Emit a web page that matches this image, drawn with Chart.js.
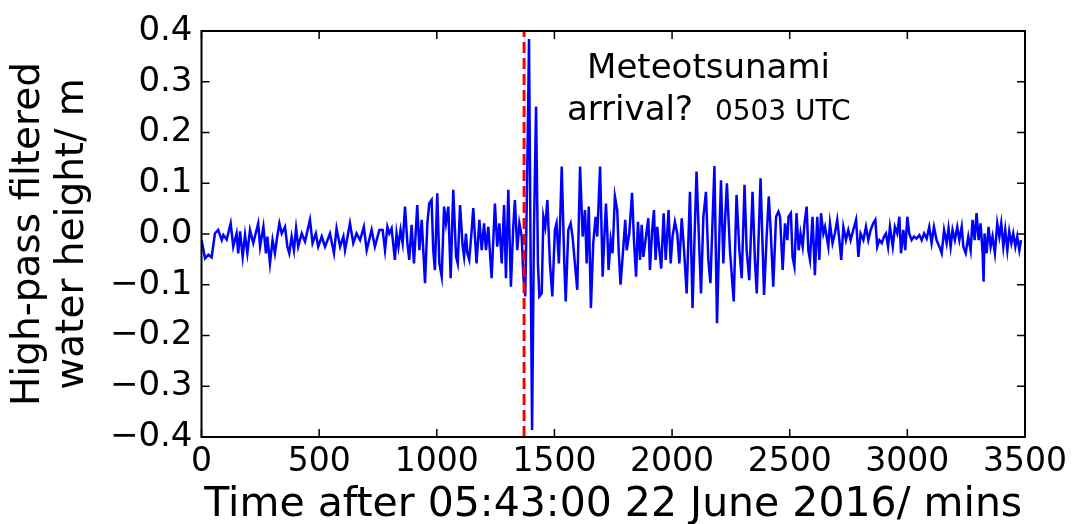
<!DOCTYPE html>
<html>
<head>
<meta charset="utf-8">
<script src="https://cdn.jsdelivr.net/npm/chart.js@4.4.1/dist/chart.umd.min.js"></script>
<style>
html,body{margin:0;padding:0;background:#fff;}
#c{display:block;}
</style>
</head>
<body>
<canvas id="c" width="1079" height="524"></canvas>
<script>
// Time after 05:43:00 22 June 2016 (mins)
const times = [
0,15,29,43,57,71,86,93,107,124,135,149,156,164,175,185,195,206,220,241,249,263,274,280,291,302,312,322,331,341,355,365,373,383,393,402,411,426,440,461,472,486,496,511,525,546,563,574,589,603,610,631,645,659,674,690,702,723,737,756,
770,780,790,798,808,822,829,837,846,855,865,875,883,893,903,917,926,936,950,960,968,978,985,992,1002,1011,1021,1031,1039,1049,1059,1070,1082,1089,1099,1110,1116,1124,1130,1138,1148,1155,1169,1181,1191,1201,1209,1219,1233,1247,1257,1266,1276,1286,1294,1304,1315,1325,1332,1342,1351,1361,1368,1376,1383,1392,1399,1405,1413,1422,1430,1436,1446,1453,1461,1470,1481,1491,1502,1509,1519,1531,1542,1548,1559,1569,1577,1587,1597,1609,1620,1630,1637,1646,1655,1665,1675,1682,
1694,1705,1711,1719,1725,1730,1739,1747,1757,1767,1773,1781,1793,1801,1807,1818,1830,1838,1847,1855,1864,1871,1878,1889,1899,1906,1915,1923,1930,1937,1946,1954,1964,1973,1985,1994,2002,2012,2022,2031,2041,2051,2062,2076,2087,2096,2104,2116,2123,2133,2144,2154,2163,2180,2191,2199,2208,2218,2226,2233,2246,2262,2274,2286,2296,2308,2317,2328,2342,2352,2360,2376,2391,2402,2411,2419,2430,2442,2452,2459,2470,2480,2490,2495,2505,2512,2520,2529,2538,2546,2555,2563,2572,2579,2586,2597,2607,2617,2626,2633,2643,2650,2664,
2671,2682,2692,2702,2711,2719,2728,2739,2749,2759,2770,2782,2792,2801,2813,2824,2834,2844,2855,2864,2872,2881,2891,2901,2909,2918,2926,2938,2947,2957,2966,2973,2983,2991,3000,3008,3018,3028,3039,3051,3061,3071,3082,3093,3103,3113,3124,3136,3146,3156,3167,3175,3184,3192,3202,3212,3221,3231,3238,3248,3259,3269,3277,3286,3294,3303,3311,3320,3324,3328,3337,3345,3354,3362,3372,3382,3391,3399,3408,3416,3425,3433,3442,3450,3459,3467,3476,3483
];
// High-pass filtered water height (m)
const heights = [
-0.012,-0.048,-0.041,-0.046,0.001,0.008,-0.012,-0.002,-0.011,0.021,-0.025,0.001,-0.038,0.005,-0.045,-0.002,-0.038,0.008,-0.018,0.021,-0.025,0.014,-0.038,-0.005,-0.058,-0.012,-0.038,-0.005,0.021,0.001,0.014,-0.025,-0.038,-0.005,-0.032,0.011,-0.025,0.001,-0.015,0.028,-0.018,0.001,-0.025,-0.005,-0.025,0.001,-0.038,0.011,-0.025,-0.005,-0.032,0.021,-0.018,0.001,-0.012,0.014,-0.032,0.008,-0.025,0.008,
0.008,-0.032,0.014,0.001,0.011,-0.051,0.001,-0.025,0.008,-0.018,0.054,-0.018,-0.051,0.018,-0.058,0.057,-0.032,0.028,-0.097,0.021,0.060,0.067,-0.032,-0.071,0.080,-0.058,-0.084,0.054,0.021,0.054,-0.087,0.087,-0.045,-0.058,0.057,-0.025,-0.045,0.001,-0.038,-0.051,0.005,0.051,-0.058,0.028,-0.032,0.021,-0.032,0.014,-0.087,0.060,-0.025,0.021,-0.058,0.057,-0.087,0.087,-0.104,0.014,0.067,-0.032,0.021,-0.005,-0.084,-0.123,0.074,0.384,-0.058,-0.386,0.008,0.251,-0.058,-0.123,-0.117,0.034,0.014,0.067,-0.058,-0.123,0.008,0.021,-0.058,0.133,-0.058,-0.133,0.008,0.021,-0.005,-0.058,-0.110,0.133,-0.005,0.047,-0.058,0.054,-0.146,-0.018,0.034,-0.005,
0.133,-0.084,-0.018,0.060,0.001,-0.071,-0.012,-0.038,0.074,0.047,-0.032,-0.100,-0.025,0.028,-0.032,0.001,0.081,-0.012,-0.084,0.024,-0.051,0.018,-0.045,-0.005,0.031,-0.071,0.005,0.047,-0.051,0.014,-0.032,-0.068,0.041,-0.051,0.047,-0.058,-0.005,0.024,0.001,-0.058,0.031,-0.032,-0.117,0.083,-0.146,0.001,0.123,-0.032,-0.117,0.034,0.083,-0.051,-0.097,0.134,-0.176,-0.032,0.106,-0.058,0.034,0.100,-0.032,-0.133,0.077,-0.032,-0.087,0.097,-0.032,-0.091,0.083,-0.051,-0.117,0.110,-0.120,-0.005,0.074,0.008,-0.104,0.034,0.044,0.034,-0.071,0.021,-0.012,0.034,0.041,-0.045,-0.064,0.041,-0.032,0.001,-0.025,0.021,0.054,-0.032,-0.051,0.034,-0.081,0.034,-0.051,0.041,0.001,0.014,-0.025,
0.021,-0.018,0.001,0.028,-0.012,-0.051,0.014,-0.012,0.008,-0.012,0.008,0.028,-0.045,0.001,-0.012,0.014,-0.012,0.008,0.021,0.028,-0.025,-0.012,-0.018,-0.005,0.001,-0.025,0.014,-0.025,0.014,0.001,0.034,-0.038,0.008,-0.032,0.034,0.001,-0.012,-0.005,-0.009,-0.002,-0.012,0.001,-0.009,0.014,-0.018,0.014,-0.012,-0.025,-0.038,0.008,-0.018,0.011,-0.025,0.008,-0.012,0.014,-0.012,0.014,-0.025,-0.038,-0.005,-0.032,0.028,-0.012,0.041,-0.012,0.021,-0.038,-0.094,0.001,-0.038,0.014,-0.025,-0.005,-0.038,0.021,-0.005,0.021,-0.025,0.008,-0.032,0.005,-0.018,0.001,-0.025,-0.005,-0.032,-0.012
];
const arrivalTime = 1371;
const xTickValues = [0,500,1000,1500,2000,2500,3000,3500];
const yTickValues = [-0.4,-0.3,-0.2,-0.1,0.0,0.1,0.2,0.3,0.4];
const xTitle = 'Time after 05:43:00 22 June 2016/ mins';
const yTitle = ['High-pass filtered', 'water height/ m'];
const noteLine1 = 'Meteotsunami';
const noteLine2a = 'arrival?';
const noteLine2b = '0503 UTC';

const FONT = "'DejaVu Sans', sans-serif";
const seriesPoints = times.map((t, i) => ({x: t, y: heights[i]}));
const arrivalPoints = [{x: arrivalTime, y: yTickValues[0]}, {x: arrivalTime, y: yTickValues[yTickValues.length - 1]}];

const frameTicks = {
  id: 'frameTicks',
  afterDatasetsDraw(chart) {
    const {ctx, chartArea: a, scales: {x, y}} = chart;
    ctx.save();
    ctx.strokeStyle = '#000';
    ctx.lineWidth = 1.5;
    const L = 8;
    ctx.beginPath();
    xTickValues.forEach(v => {
      const px = x.getPixelForValue(v);
      ctx.moveTo(px, a.bottom); ctx.lineTo(px, a.bottom - L);
      ctx.moveTo(px, a.top); ctx.lineTo(px, a.top + L);
    });
    yTickValues.forEach(v => {
      const py = y.getPixelForValue(v);
      ctx.moveTo(a.left, py); ctx.lineTo(a.left + L, py);
      ctx.moveTo(a.right, py); ctx.lineTo(a.right - L, py);
    });
    ctx.stroke();
    ctx.lineWidth = 2;
    ctx.strokeRect(a.left, a.top, a.right - a.left, a.bottom - a.top);
    // annotation
    ctx.fillStyle = '#000';
    ctx.textBaseline = 'alphabetic';
    ctx.font = '34px ' + FONT;
    ctx.textAlign = 'center';
    ctx.fillText(noteLine1, x.getPixelForValue(2155), y.getPixelForValue(0.308));
    ctx.textAlign = 'left';
    ctx.fillText(noteLine2a, x.getPixelForValue(1553), y.getPixelForValue(0.2246));
    ctx.font = '28px ' + FONT;
    ctx.fillText(noteLine2b, x.getPixelForValue(2182), y.getPixelForValue(0.2246));
    ctx.restore();
  }
};

new Chart(document.getElementById('c'), {
  type: 'line',
  data: {
    datasets: [
      {
        data: arrivalPoints,
        borderColor: '#ff0000',
        borderWidth: 3,
        borderDash: [11, 5],
        pointRadius: 0,
        order: 0
      },
      {
        data: seriesPoints,
        borderColor: '#0000ff',
        borderWidth: 2.5,
        pointRadius: 0,
        tension: 0,
        order: 1
      }
    ]
  },
  options: {
    responsive: false,
    animation: false,
    devicePixelRatio: 1,
    layout: {padding: {top: 31, right: 54, left: 0, bottom: 0}},
    plugins: {legend: {display: false}, tooltip: {enabled: false}},
    scales: {
      x: {
        type: 'linear',
        min: 0, max: 3500,
        afterBuildTicks(s) { s.ticks = xTickValues.map(v => ({value: v})); },
        afterFit(s) { s.height = 87; },
        grid: {display: false, drawTicks: false},
        border: {display: false},
        ticks: {
          color: '#000', padding: 6, maxRotation: 0, autoSkip: false,
          font: {family: FONT, size: 33},
          callback: v => String(v)
        },
        title: {
          display: true, text: xTitle, color: '#000',
          font: {family: FONT, size: 41, lineHeight: 0.9},
          padding: {top: 0, bottom: 0}
        }
      },
      y: {
        type: 'linear',
        min: -0.4, max: 0.4,
        afterBuildTicks(s) { s.ticks = yTickValues.map(v => ({value: v})); },
        afterFit(s) { s.width = 201.5; },
        grid: {display: false, drawTicks: false},
        border: {display: false},
        ticks: {
          color: '#000', padding: 9, autoSkip: false,
          font: {family: FONT, size: 34},
          callback: v => {
            const s = (Math.abs(v) < 1e-9 ? 0 : v).toFixed(1);
            return s.replace('-', '\u2212');
          }
        },
        title: {
          display: true, text: yTitle, color: '#000',
          font: {family: FONT, size: 39, lineHeight: 1.13},
          padding: {top: 7, bottom: 0}
        }
      }
    }
  },
  plugins: [frameTicks]
});
</script>
</body>
</html>
